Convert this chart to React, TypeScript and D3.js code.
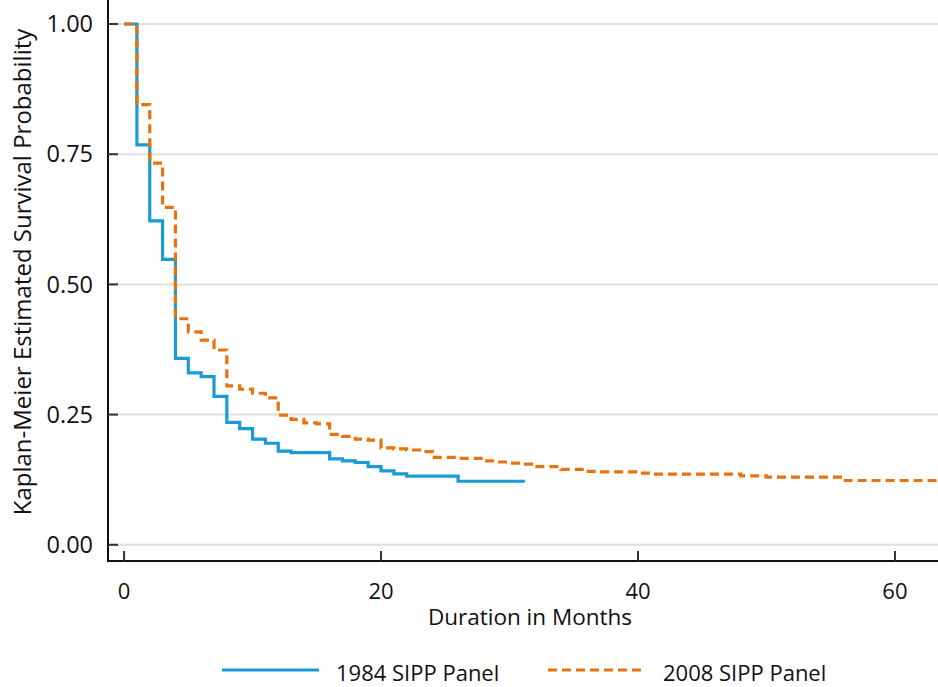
import React from "react";
import * as d3 from "d3";

// Kaplan-Meier survival estimates by month (step changes at each time)
const months1984 = [0, 1, 2, 3, 4, 5, 6, 7, 8, 9, 10, 11, 12, 13, 16, 17, 18, 19, 20, 21, 22, 26];
const surv1984 = [1.0, 0.768, 0.622, 0.548, 0.358, 0.33, 0.323, 0.285, 0.235, 0.223, 0.203, 0.195, 0.18, 0.177, 0.165, 0.161, 0.158, 0.15, 0.142, 0.136, 0.132, 0.122];
const end1984 = 31.2;

const months2008 = [0, 1, 2, 3, 4, 5, 6, 7, 8, 9, 10, 11, 12, 13, 14, 15, 16, 17, 18, 19, 20, 21, 22, 23, 24, 26, 28, 29, 30, 31, 32, 34, 36, 37, 40, 41, 48, 50, 56];
const surv2008 = [1.0, 0.845, 0.733, 0.648, 0.434, 0.409, 0.393, 0.374, 0.305, 0.299, 0.291, 0.282, 0.249, 0.241, 0.234, 0.232, 0.212, 0.208, 0.203, 0.201, 0.186, 0.184, 0.182, 0.179, 0.168, 0.166, 0.161, 0.159, 0.157, 0.155, 0.15, 0.145, 0.141, 0.14, 0.1376, 0.1357, 0.1324, 0.13, 0.1235];
const end2008 = 66;

const xTicks = [0, 20, 40, 60];
const yTicks = [0, 0.25, 0.5, 0.75, 1.0];
const seriesNames = ["1984 SIPP Panel", "2008 SIPP Panel"];

const W = 938;
const H = 687;
const left = 108;
const right = 938;
const top = 0;
const bottom = 561;

const BLUE = "#1a9bd7";
const ORANGE = "#e8720c";
const FONT = "'Open Sans', sans-serif";

export default function App() {
  const x = d3.scaleLinear().domain([-1.25, 63.35]).range([left, right]);
  const y = d3.scaleLinear().domain([0, 1]).range([544.8, 24]);

  const line = d3
    .line<[number, number]>()
    .x((d) => x(d[0]))
    .y((d) => y(d[1]))
    .curve(d3.curveStepAfter);

  const pts1984: [number, number][] = months1984.map((m, i) => [m, surv1984[i]]);
  pts1984.push([end1984, surv1984[surv1984.length - 1]]);
  const pts2008: [number, number][] = months2008.map((m, i) => [m, surv2008[i]]);
  pts2008.push([end2008, surv2008[surv2008.length - 1]]);

  return (
    <svg width={W} height={H} style={{ display: "block", position: "absolute", left: 0, top: 0, background: "#fff" }}>
      <defs>
        <clipPath id="plot-clip">
          <rect x={left} y={top} width={right - left} height={bottom - top} />
        </clipPath>
      </defs>
      {/* gridlines */}
      {yTicks.map((t) => (
        <line key={"g" + t} x1={left} x2={right} y1={y(t)} y2={y(t)} stroke="#e0e0e0" strokeWidth={2} />
      ))}
      {/* survival curves */}
      <g clipPath="url(#plot-clip)" fill="none">
        <path d={line(pts1984) || ""} stroke={BLUE} strokeWidth={3.2} />
        <path d={line(pts2008) || ""} stroke={ORANGE} strokeWidth={3.2} strokeDasharray="9,5" />
      </g>
      {/* axes */}
      <line x1={left} x2={left} y1={top} y2={bottom} stroke="#111" strokeWidth={2} />
      <line x1={left - 1} x2={right} y1={bottom} y2={bottom} stroke="#111" strokeWidth={2} />
      {yTicks.map((t) => (
        <g key={"y" + t}>
          <line x1={left} x2={left + 10} y1={y(t)} y2={y(t)} stroke="#333" strokeWidth={2} />
          <text x={93} y={y(t)} dy="0.35em" textAnchor="end" fontFamily={FONT} fontSize={23.5} fill="#111">
            {d3.format(".2f")(t)}
          </text>
        </g>
      ))}
      {xTicks.map((t) => (
        <g key={"x" + t}>
          <line x1={x(t)} x2={x(t)} y1={bottom} y2={bottom - 10} stroke="#333" strokeWidth={2} />
          <text x={x(t)} y={599} textAnchor="middle" fontFamily={FONT} fontSize={22} fill="#111">
            {t}
          </text>
        </g>
      ))}
      <text x={530} y={625} textAnchor="middle" fontFamily={FONT} fontSize={22.5} fill="#111">
        Duration in Months
      </text>
      <text
        transform={`translate(31, 272) rotate(-90)`}
        textAnchor="middle"
        fontFamily={FONT}
        fontSize={24}
        fill="#111"
      >
        Kaplan-Meier Estimated Survival Probability
      </text>
      {/* legend */}
      <line x1={222} x2={319} y1={670} y2={670} stroke={BLUE} strokeWidth={3.2} />
      <text x={336} y={681} fontFamily={FONT} fontSize={22} fill="#111">
        {seriesNames[0]}
      </text>
      <line x1={548} x2={645} y1={670} y2={670} stroke={ORANGE} strokeWidth={3.2} strokeDasharray="9,5" />
      <text x={663} y={681} fontFamily={FONT} fontSize={22} fill="#111">
        {seriesNames[1]}
      </text>
    </svg>
  );
}
